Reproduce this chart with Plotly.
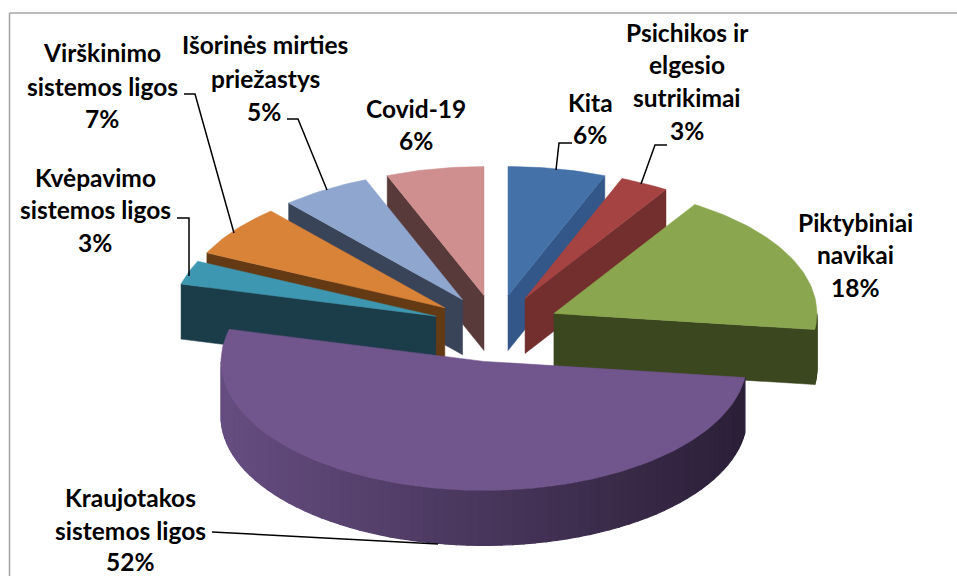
import math
import plotly.graph_objects as go

# ---- data (clockwise from 12 o'clock) ----
categories = ["Kita", "Psichikos ir elgesio sutrikimai", "Piktybiniai navikai",
              "Kraujotakos sistemos ligos", "Kvėpavimo sistemos ligos",
              "Virškinimo sistemos ligos", "Išorinės mirties priežastys", "Covid-19"]
values = [6, 3, 18, 52, 3, 6.5, 5.5, 6]
top_colors = ["#4472a8", "#a54342", "#8aa64e", "#71558d", "#3e97b0", "#d98339", "#8fa6cf", "#cf8f8f"]
wall_colors = ["#34578a", "#732f2e", "#3b471f", "#2b1f37", "#1b3c49", "#643a14", "#3a4458", "#593a3a"]
draw_order = [7, 6, 5, 4, 0, 1, 2, 3]

# label text lines: (centre x, centre y, text)
label_lines = [
    (102, 52, "Virškinimo"), (102, 86, "sistemos ligos"), (102, 118, "7%"),
    (265, 44, "Išorinės mirties"), (265, 78, "priežastys"), (264, 111, "5%"),
    (416, 108, "Covid-19"), (416, 140, "6%"),
    (590, 102, "Kita"), (590, 134, "6%"),
    (687, 32, "Psichikos ir"), (687, 64, "elgesio"), (687, 97, "sutrikimai"), (687, 130, "3%"),
    (855, 222, "Piktybiniai"), (855, 254, "navikai"), (855, 287, "18%"),
    (95, 177, "Kvėpavimo"), (95, 209, "sistemos ligos"), (95, 242, "3%"),
    (130, 497, "Kraujotakos"), (130, 530, "sistemos ligos"), (130, 561, "52%"),
]
leaders = [
    [(572, 143), (559, 143), (556, 170)],
    [(667, 145), (655, 145), (641, 184)],
    [(184, 94), (195, 94), (234, 233)],
    [(287, 119), (298, 119), (327, 190)],
    [(177, 218), (189, 218), (189, 276)],
    [(212, 532), (438, 544)],
]

# ---- projection of the tilted, exploded pie onto the page ----
CX, CY = 496, 327
RX, RY = 263, 129
PX, PY_BACK, PY_FRONT = 64, 32, 35
DEPTH = 55
WALL_LEFT = "#654d80"
FONT = "Lato"

fig = go.Figure()


def poly(xs, ys, color, lw=0.5):
    fig.add_trace(go.Scatter(x=xs, y=ys, mode="lines", fill="toself", fillcolor=color,
                             line=dict(color=color, width=lw), hoverinfo="skip", showlegend=False))


def mix(c1, c2, t):
    a = [int(c1[i:i + 2], 16) for i in (1, 3, 5)]
    b = [int(c2[i:i + 2], 16) for i in (1, 3, 5)]
    return "rgb(%d,%d,%d)" % tuple(round(p + (q - p) * t) for p, q in zip(a, b))


total = sum(values)
starts = []
acc = 0.0
for v in values:
    starts.append(acc)
    acc += v / total * 2 * math.pi

for i in draw_order:
    a0 = starts[i]
    a1 = a0 + values[i] / total * 2 * math.pi
    mid = (a0 + a1) / 2
    ax = CX + PX * math.sin(mid)
    ay = CY - (PY_BACK if math.cos(mid) > 0 else PY_FRONT) * math.cos(mid)
    pt = lambda a: (ax + RX * math.sin(a), ay - RY * math.cos(a))
    # radial walls
    for a, visible in ((a0, math.sin(a0) < 0), (a1, math.sin(a1) > 0)):
        if visible:
            x, y = pt(a)
            poly([ax, x, x, ax, ax], [ay, y, y + DEPTH, ay + DEPTH, ay], wall_colors[i])
    # outer wall, shaded in strips
    lo, hi = max(a0, math.pi / 2), min(a1, 3 * math.pi / 2)
    if hi > lo:
        n = 70 if values[i] > 20 else 8
        for k in range(n):
            b0 = lo + (hi - lo) * k / n
            b1 = lo + (hi - lo) * (k + 1) / n
            x0, y0 = pt(b0)
            x1, y1 = pt(b1)
            col = wall_colors[i]
            if values[i] > 40:
                col = mix(WALL_LEFT, wall_colors[i], ((x0 + x1) / 2 - 226) / 520)
            poly([x0, x1, x1, x0, x0], [y0, y1, y1 + DEPTH, y0 + DEPTH, y0], col, lw=1.2)
    # top face
    steps = max(4, int(values[i] * 3))
    rim = [pt(a0 + (a1 - a0) * k / steps) for k in range(steps + 1)]
    poly([ax] + [p[0] for p in rim] + [ax], [ay] + [p[1] for p in rim] + [ay], top_colors[i])

for path in leaders:
    fig.add_trace(go.Scatter(x=[p[0] for p in path], y=[p[1] for p in path], mode="lines",
                             line=dict(color="black", width=1.5), hoverinfo="skip", showlegend=False))

for x, y, t in label_lines:
    fig.add_annotation(x=x, y=y, text=t, showarrow=False, xref="x", yref="y",
                       xanchor="center", yanchor="middle",
                       font=dict(family=FONT, size=24.5, color="black", weight="bold"))

# chart-area frame: only its top and left edges fall inside the picture
fig.add_shape(type="line", x0=9.5, y0=13, x1=957, y1=13, line=dict(color="#a3a3a3", width=1.5),
              xref="x", yref="y", layer="below")
fig.add_shape(type="line", x0=9.5, y0=13, x1=9.5, y1=576, line=dict(color="#a3a3a3", width=1.5),
              xref="x", yref="y", layer="below")

fig.update_layout(width=957, height=576, margin=dict(l=0, r=0, t=0, b=0),
                  paper_bgcolor="white", plot_bgcolor="white", showlegend=False,
                  xaxis=dict(range=[0, 957], visible=False, fixedrange=True),
                  yaxis=dict(range=[576, 0], visible=False, fixedrange=True))
fig.write_html("out.html", config={"displayModeBar": False},
               post_script="document.body.style.margin='0';document.documentElement.style.overflow='hidden';")
